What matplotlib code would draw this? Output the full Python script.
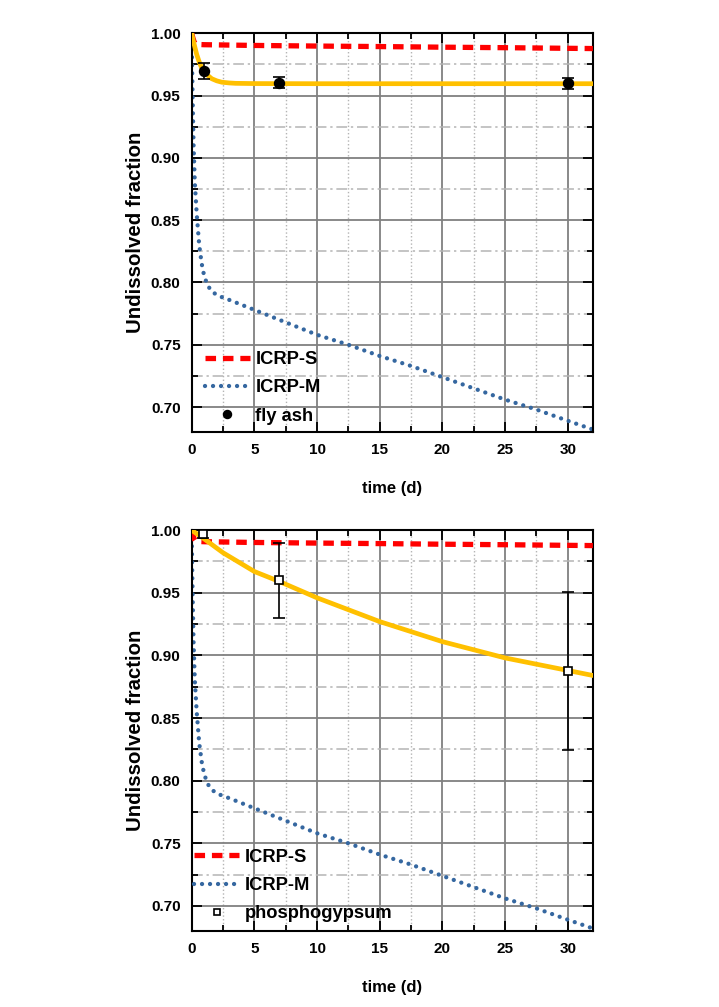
import matplotlib
matplotlib.use("Agg")
import matplotlib.pyplot as plt
from matplotlib.ticker import MultipleLocator, FormatStrFormatter

# ICRP default absorption types
icrp_s_t = [0, 0.1, 0.2, 0.3, 0.5, 1, 5, 10, 15, 20, 25, 30, 32]
icrp_s_y = [1.0, 0.996, 0.993, 0.9915, 0.991, 0.9908, 0.9902, 0.9897, 0.9893,
            0.9888, 0.9884, 0.9879, 0.9877]

icrp_m_t = [0, 0.03, 0.08, 0.15, 0.25, 0.4, 0.6, 0.8, 1.0, 1.3, 1.7, 2.2, 3, 4, 5,
            7.5, 10, 12.5, 15, 17.5, 20, 22.5, 25, 27.5, 30, 32]
icrp_m_y = [1.0, 0.975, 0.945, 0.91, 0.88, 0.855, 0.83, 0.815, 0.805, 0.797, 0.792,
            0.789, 0.786, 0.782, 0.778, 0.768, 0.758, 0.750, 0.741, 0.733, 0.724,
            0.715, 0.706, 0.698, 0.689, 0.682]

# fly ash: fitted curve + measurements
ash_fit_t = [0, 0.1, 0.25, 0.4, 0.6, 0.8, 1.0, 1.3, 1.6, 2.0, 2.4, 3.0, 3.5, 5, 10, 20, 32]
ash_fit_y = [1.0, 0.995, 0.989, 0.983, 0.977, 0.972, 0.969, 0.966, 0.9635, 0.9618,
             0.9607, 0.9601, 0.9598, 0.9596, 0.9595, 0.9595, 0.9595]
ash_t = [1, 7, 30]
ash_y = [0.9696, 0.9602, 0.9597]
ash_err = [0.0065, 0.0045, 0.0045]

# phosphogypsum: fitted curve + measurements
pg_fit_t = [0, 1, 2.5, 5, 7, 10, 15, 20, 25, 30, 32]
pg_fit_y = [1.0, 0.993, 0.982, 0.967, 0.959, 0.946, 0.927, 0.911, 0.898, 0.888, 0.884]
pg_t = [0.93, 7, 30]
pg_y = [0.997, 0.960, 0.8877]
pg_err = [0.003, 0.030, 0.063]

RED = "#ff0000"
BLUE = "#3567a0"
GOLD = "#ffc000"
FONT = ["Liberation Sans", "DejaVu Sans"]


def style_axes(ax):
    ax.set_xlim(0, 32)
    ax.set_ylim(0.68, 1.0)
    ax.xaxis.set_major_locator(MultipleLocator(5))
    ax.xaxis.set_minor_locator(MultipleLocator(2.5))
    ax.yaxis.set_major_locator(MultipleLocator(0.05))
    ax.yaxis.set_minor_locator(MultipleLocator(0.025))
    ax.yaxis.set_major_formatter(FormatStrFormatter("%.2f"))

    ax.grid(which="major", color="#808080", linewidth=1.3, linestyle="-")
    ax.xaxis.grid(which="minor", color="#b4b4b4", linewidth=1.0, linestyle=":")
    ax.yaxis.grid(which="minor", color="#b4b4b4", linewidth=1.1,
                  linestyle=(0, (7, 2.5, 1.5, 2.5)))
    ax.set_axisbelow(True)

    ax.tick_params(which="both", direction="in", top=True, right=True,
                   width=1.3, colors="black")
    ax.tick_params(which="major", length=7, pad=8, labelsize=11)
    ax.tick_params(which="minor", length=4)
    for lab in ax.get_xticklabels() + ax.get_yticklabels():
        lab.set_fontweight("bold")
        lab.set_family(FONT)
    for sp in ax.spines.values():
        sp.set_linewidth(1.5)

    ax.set_xlabel("time (d)", family=FONT, fontweight="bold", fontsize=12,
                  labelpad=17)
    ax.set_ylabel("Undissolved fraction", family=FONT, fontweight="bold",
                  fontsize=14.7, labelpad=4)


def draw_panel(ax, fit_t, fit_y, pts_t, pts_y, pts_err, label, marker, msize,
               mface, anchor):
    ax.plot(icrp_m_t, icrp_m_y, color=BLUE, linewidth=3.1, linestyle=(0, (0.01, 1.85)),
            dash_capstyle="round", label="ICRP-M", zorder=2)
    ax.plot(icrp_s_t, icrp_s_y, color=RED, linewidth=3.8, linestyle=(0, (2.0, 1.3)),
            label="ICRP-S", zorder=3)
    ax.plot(fit_t, fit_y, color=GOLD, linewidth=3.4, zorder=4)
    ax.errorbar(pts_t, pts_y, yerr=pts_err, fmt="none", ecolor="black",
                elinewidth=1.2, capsize=4, capthick=1.2, zorder=5)
    ax.plot(pts_t, pts_y, linestyle="none", marker=marker, markersize=msize,
            markerfacecolor=mface, markeredgecolor="black", markeredgewidth=1.2,
            label=label, zorder=6)
    style_axes(ax)

    handles, labels = ax.get_legend_handles_labels()
    order = [1, 0, 2]
    leg = ax.legend([handles[i] for i in order], [labels[i] for i in order],
                    loc="lower left", bbox_to_anchor=anchor, frameon=False,
                    handlelength=2.45, handletextpad=0.3, labelspacing=0.62,
                    borderaxespad=0.0, markerscale=0.8,
                    prop={"family": FONT, "weight": "bold", "size": 13.2})
    return leg


fig = plt.figure(figsize=(7.19, 10.07), dpi=100)
ax_top = fig.add_axes([0.2666, 0.571, 0.558, 0.396])
ax_bot = fig.add_axes([0.2666, 0.0755, 0.558, 0.398])

draw_panel(ax_top, ash_fit_t, ash_fit_y, ash_t, ash_y, ash_err, "fly ash",
           "o", 7, "black", (0.015, 0.0))
draw_panel(ax_bot, pg_fit_t, pg_fit_y, pg_t, pg_y, pg_err, "phosphogypsum",
           "s", 6, "white", (-0.012, 0.003))

fig.savefig("out.png", dpi=100)
